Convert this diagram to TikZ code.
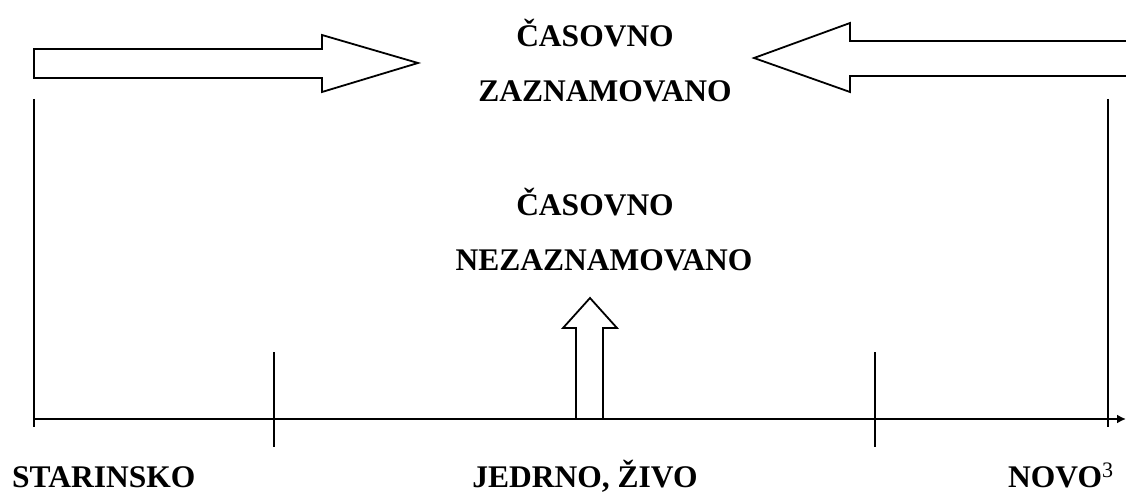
\documentclass[tikz,border=0pt]{standalone}
\usepackage{fontspec}
\setmainfont{Liberation Serif}
\usetikzlibrary{arrows.meta}
\begin{document}
\begin{tikzpicture}[x=1pt,y=-1pt,
  ln/.style={line width=1.8pt,black},
  lbl/.style={font=\fontsize{31.5}{31.5}\selectfont\bfseries,inner sep=0pt,anchor=base}]
\useasboundingbox (0,0) rectangle (1126,492);
% coordinates
\coordinate (lv1) at (34,99);
\coordinate (lv2) at (34,427);
\coordinate (rv1) at (1108,99);
\coordinate (rv2) at (1108,427);
\coordinate (ax1) at (33,419);
\coordinate (ax2) at (1126,419);
\coordinate (t1a) at (274,352);
\coordinate (t1b) at (274,447);
\coordinate (t2a) at (875,352);
\coordinate (t2b) at (875,447);
% axis
\draw[ln,-{Latex[length=9pt,width=9pt]}] (ax1) -- (ax2);
\draw[ln] (lv1) -- (lv2);
\draw[ln] (rv1) -- (rv2);
\draw[ln] (t1a) -- (t1b);
\draw[ln] (t2a) -- (t2b);
% block arrows
\draw[ln,line join=miter] (34,49) -- (322,49) -- (322,35) -- (418,63) -- (322,92) -- (322,78) -- (34,78) -- cycle;
\draw[ln,line join=miter] (1130,41) -- (850,41) -- (850,23) -- (754,58) -- (850,92) -- (850,76) -- (1130,76);
\draw[ln,line join=miter] (576,419) -- (576,328) -- (563,328) -- (590,298) -- (617,328) -- (603,328) -- (603,419);
% labels
\node[lbl] (c1) at (595,47) {ČASOVNO};
\node[lbl] (z1) at (605,102) {ZAZNAMOVANO};
\node[lbl] (c2) at (595,215) {ČASOVNO};
\node[lbl] (n2) at (604,270) {NEZAZNAMOVANO};
\node[lbl,anchor=base west] (st) at (12,487) {STARINSKO};
\node[lbl] (je) at (585,487) {JEDRNO, ŽIVO};
\node[lbl,anchor=base west] (no) at (1008,487) {NOVO\textsuperscript{\mdseries 3}};
\end{tikzpicture}
\end{document}
